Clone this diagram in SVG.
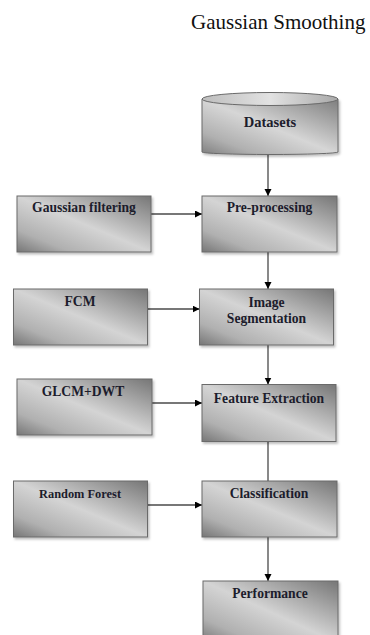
<svg xmlns="http://www.w3.org/2000/svg" width="370" height="635" viewBox="0 0 370 635">
<style>
  .box { fill: url(#boxGrad); stroke: #6a6a6a; stroke-width: 1; filter: url(#shadow); }
  .lbl { font-family: 'Liberation Serif', 'DejaVu Serif', 'Times New Roman', serif; font-weight: bold; font-size: 13.6px; fill: #1c1c2c; text-anchor: middle; }
  .conn { stroke: #4a4a4a; stroke-width: 1.3; fill: none; }
  .title { font-family: 'Liberation Serif', 'DejaVu Serif', 'Times New Roman', serif; font-size: 21px; fill: #111; }
</style>
<defs>
  <linearGradient id="boxGrad" x1="1" y1="0" x2="0" y2="1">
    <stop offset="0" stop-color="#767676"/>
    <stop offset="0.5" stop-color="#d4d4d4"/>
    <stop offset="0.8" stop-color="#b0b0b0"/>
    <stop offset="1" stop-color="#767676"/>
  </linearGradient>
  <linearGradient id="cylGrad" x1="1" y1="0" x2="0" y2="1">
    <stop offset="0" stop-color="#7e7e7e"/>
    <stop offset="0.5" stop-color="#d6d6d6"/>
    <stop offset="0.8" stop-color="#b0b0b0"/>
    <stop offset="1" stop-color="#7e7e7e"/>
  </linearGradient>
  <linearGradient id="topGrad" x1="0" y1="0" x2="1" y2="0">
    <stop offset="0" stop-color="#bdbdbd"/>
    <stop offset="0.5" stop-color="#e2e2e2"/>
    <stop offset="1" stop-color="#a9a9a9"/>
  </linearGradient>
  <filter id="shadow" x="-10%" y="-10%" width="125%" height="130%">
    <feDropShadow dx="1.5" dy="2" stdDeviation="1" flood-color="#000" flood-opacity="0.25"/>
  </filter>
  <marker id="arr" markerUnits="userSpaceOnUse" markerWidth="8" markerHeight="8" refX="7" refY="3.5" orient="auto">
    <path d="M0,0 L7,3.5 L0,7 z" fill="#000"/>
  </marker>
</defs>

<text class="title" x="191" y="29" font-family="Liberation Serif, serif">Gaussian Smoothing</text>

<g id="connectors">
  <line class="conn" x1="268" y1="154" x2="268" y2="196" marker-end="url(#arr)"/>
  <line class="conn" x1="268" y1="252" x2="268" y2="289" marker-end="url(#arr)"/>
  <line class="conn" x1="268" y1="345" x2="268" y2="384.5" marker-end="url(#arr)"/>
  <line class="conn" x1="268" y1="441.5" x2="268" y2="481"/>
  <line class="conn" x1="268" y1="537" x2="268" y2="581" marker-end="url(#arr)"/>
  <line class="conn" x1="151" y1="214" x2="202" y2="214" marker-end="url(#arr)"/>
  <line class="conn" x1="147.5" y1="309" x2="199.5" y2="309" marker-end="url(#arr)"/>
  <line class="conn" x1="152" y1="403" x2="202" y2="403" marker-end="url(#arr)"/>
  <line class="conn" x1="147.5" y1="505" x2="202" y2="505" marker-end="url(#arr)"/>
</g>

<g id="datasets">
  <path d="M202,99 L202,152 A68,2.5 0 0 0 338,152 L338,99 Z" fill="url(#cylGrad)" stroke="#6a6a6a" stroke-width="1" filter="url(#shadow)"/>
  <ellipse cx="270" cy="99" rx="68" ry="6.5" fill="url(#topGrad)" stroke="#6a6a6a" stroke-width="1"/>
  <text class="lbl" x="270" y="127" style="font-size:14.5px">Datasets</text>
</g>

<g id="gaussian-filtering">
  <rect class="box" x="17" y="196" width="134" height="56"/>
  <text class="lbl" x="84" y="212">Gaussian filtering</text>
</g>

<g id="pre-processing">
  <rect class="box" x="202" y="196" width="135" height="56"/>
  <text class="lbl" x="269.5" y="212">Pre-processing</text>
</g>

<g id="fcm">
  <rect class="box" x="13.5" y="289" width="134" height="56"/>
  <text class="lbl" x="80" y="306">FCM</text>
</g>

<g id="image-segmentation">
  <rect class="box" x="199.5" y="289" width="134" height="56"/>
  <text class="lbl" x="266.5" y="306.5">Image</text>
  <text class="lbl" x="266.5" y="322.5">Segmentation</text>
</g>

<g id="glcm-dwt">
  <rect class="box" x="17" y="379" width="135" height="56"/>
  <text class="lbl" x="83" y="395.5">GLCM+DWT</text>
</g>

<g id="feature-extraction">
  <rect class="box" x="202" y="384.5" width="134" height="57"/>
  <text class="lbl" x="269" y="402.5">Feature Extraction</text>
</g>

<g id="random-forest">
  <rect class="box" x="13.5" y="481" width="134" height="56"/>
  <text class="lbl" x="80" y="497.5" style="font-size:12.4px">Random Forest</text>
</g>

<g id="classification">
  <rect class="box" x="202" y="481" width="135" height="56"/>
  <text class="lbl" x="269" y="498">Classification</text>
</g>

<g id="performance">
  <rect class="box" x="203" y="581" width="135" height="62"/>
  <text class="lbl" x="270" y="598">Performance</text>
</g>
</svg>
